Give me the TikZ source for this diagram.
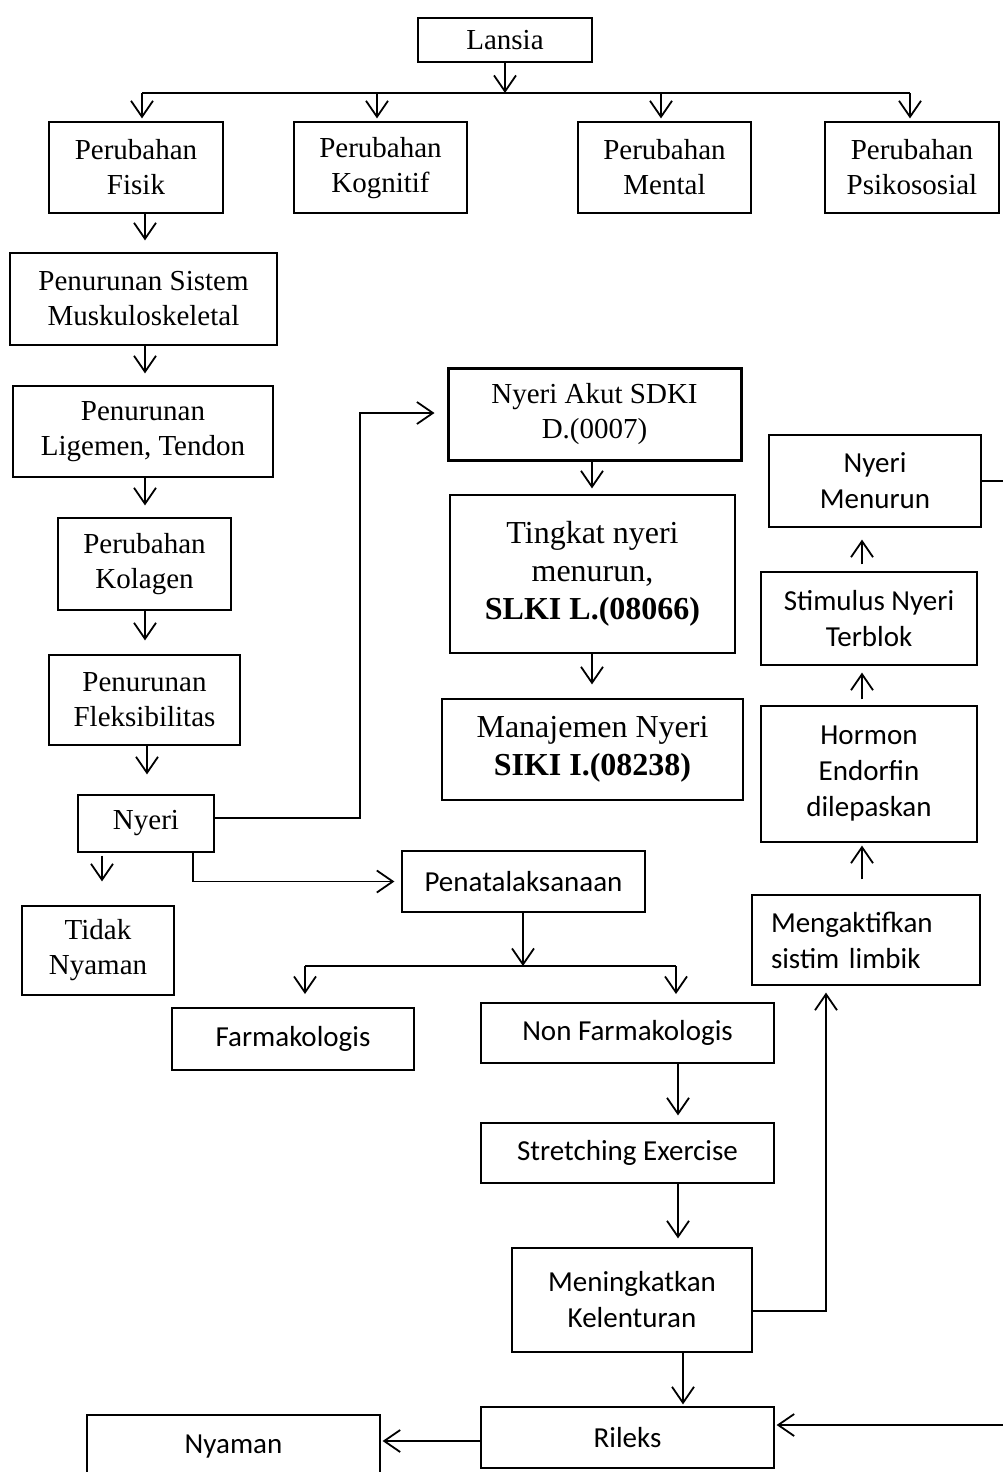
\documentclass[tikz,border=0pt]{standalone}
\usepackage{fontspec}
\setmainfont{Liberation Serif}
\newfontfamily\carlito{Carlito}
\usetikzlibrary{arrows.meta}

\begin{document}
\begin{tikzpicture}[x=1pt,y=-1pt,
  box/.style={draw,line width=1.2pt,inner sep=0pt,align=center,font=\fontsize{29}{35}\selectfont},
  bigbox/.style={box,font=\fontsize{32}{38}\selectfont},
  cbox/.style={box,font=\carlito\fontsize{29}{36}\selectfont},
  arr/.style={-{Straight Barb[length=16pt,width=22pt,line width=1.8pt]},line width=1.8pt},
  ln/.style={line width=1.8pt}]

\useasboundingbox (0,0) rectangle (1003,1472);

\node[box,minimum width=174,minimum height=44] (lansia) at (505,40) {Lansia};

\node[box,minimum width=174,minimum height=91] (fisik) at (136,167.5) {Perubahan\\Fisik};
\node[box,minimum width=173,minimum height=91,text depth=6pt] (kognitif) at (380.5,167.5) {Perubahan\\Kognitif};
\node[box,minimum width=173,minimum height=91] (mental) at (664.5,167.5) {Perubahan\\Mental};
\node[box,minimum width=174,minimum height=91] (psiko) at (912,167.5) {Perubahan\\Psikososial};

\node[box,minimum width=267,minimum height=92] (sistem) at (143.5,299) {Penurunan Sistem\\Muskuloskeletal};
\node[box,minimum width=260,minimum height=91] (ligamen) at (143,431.5) {Penurunan\\Ligemen, Tendon};
\node[box,minimum width=173,minimum height=92] (kolagen) at (144.5,564) {Perubahan\\Kolagen};
\node[box,minimum width=191,minimum height=90] (fleks) at (144.5,700) {Penurunan\\Fleksibilitas};
\node[box,minimum width=136,minimum height=57] (nyeri) at (146,823.5) {Nyeri};
\node[box,minimum width=152,minimum height=89] (tidak) at (98,950.5) {Tidak\\Nyaman};

\node[box,line width=3pt,minimum width=293,minimum height=92] (akut) at (594.5,414) {Nyeri Akut SDKI\\D.(0007)};
\node[bigbox,minimum width=285,minimum height=158] (tingkat) at (592.5,574) {Tingkat nyeri\\menurun,\\\textbf{SLKI L.(08066)}};
\node[bigbox,minimum width=301,minimum height=101] (manaj) at (592.5,749.5) {Manajemen Nyeri\\\textbf{SIKI I.(08238)}};

\node[cbox,minimum width=212,minimum height=92] (menurun) at (875,481) {Nyeri\\Menurun};
\node[cbox,minimum width=216,minimum height=93] (stimulus) at (869,618.5) {Stimulus Nyeri\\Terblok};
\node[cbox,minimum width=216,minimum height=136] (hormon) at (869,774) {Hormon\\Endorfin\\dilepaskan};
\node[cbox,minimum width=228,minimum height=90,text width=190,align=left] (limbik) at (866,940) {Mengaktifkan\\sistim limbik};

\node[cbox,minimum width=243,minimum height=61] (penata) at (523.5,881.5) {Penatalaksanaan};
\node[cbox,minimum width=242,minimum height=62] (farmako) at (293,1039) {Farmakologis};
\node[cbox,minimum width=293,minimum height=60] (nonfarm) at (627.5,1033) {Non Farmakologis};
\node[cbox,minimum width=293,minimum height=60] (stretch) at (627.5,1153) {Stretching Exercise};
\node[cbox,minimum width=240,minimum height=104] (kelentur) at (632,1300) {Meningkatkan\\Kelenturan};
\node[cbox,minimum width=293,minimum height=61] (rileks) at (627.5,1437.5) {Rileks};
\node[cbox,minimum width=293,minimum height=64] (nyaman) at (233.5,1447) {Nyaman};

\coordinate (bar) at (505,93);
\coordinate (split) at (523,966);
\coordinate (kanan) at (1010,481);

\draw[arr] (lansia.south) -- (bar);
\draw[ln] (142,93) -- (910,93);
\foreach \n/\x in {fisik/142,kognitif/377,mental/661,psiko/910}
  \draw[arr,shorten >=3pt] (\x,93) -- (\n.north -| \x,0);

\draw[arr,shorten >=12pt] (fisik.south -| 145,0) -- (sistem.north -| 145,0);
\draw[arr,shorten >=12pt] (sistem.south -| 145,0) -- (ligamen.north -| 145,0);
\draw[arr,shorten >=12pt] (ligamen.south -| 145,0) -- (kolagen.north -| 145,0);
\draw[arr,shorten >=14pt] (kolagen.south -| 145,0) -- (fleks.north -| 145,0);
\draw[arr,shorten >=20pt] (fleks.south -| 147,0) -- (nyeri.north -| 147,0);

\draw[arr,shorten >=12pt] (nyeri.east |- 0,818) -- (360,818) |- (akut.west |- 0,413);
\draw[arr,shorten <=3pt,shorten >=24pt] (nyeri.south -| 102,0) -- (tidak.north -| 102,0);
\draw[arr,shorten >=7pt] (nyeri.south -| 193,0) |- (penata.west);

\draw[arr,shorten >=6pt] (akut.south -| 592,0) -- (tingkat.north -| 592,0);
\draw[arr,shorten >=14pt] (tingkat.south -| 592,0) -- (manaj.north -| 592,0);

\draw[arr] (penata.south -| split) -- (split);
\draw[ln] (305,966) -- (676,966);
\draw[arr] (305,966) -- ++(0,28);
\draw[arr] (676,966) -- ++(0,28);

\draw[arr,shorten >=7pt] (nonfarm.south -| 678,0) -- (stretch.north -| 678,0);
\draw[arr,shorten >=9pt] (stretch.south -| 678,0) -- (kelentur.north -| 678,0);
\draw[arr,shorten >=2pt] (kelentur.south -| 683,0) -- (rileks.north -| 683,0);
\draw[arr,shorten >=2pt] (rileks.west |- 0,1441) -- (nyaman.east |- 0,1441);

\draw[arr,shorten >=7pt] (kelentur.east |- 0,1311) -| (limbik.south -| 826,0);
\draw[arr,shorten <=15pt,shorten >=3pt] (limbik.north -| 862,0) -- (hormon.south -| 862,0);
\draw[arr,shorten <=6pt,shorten >=7pt] (hormon.north -| 862,0) -- (stimulus.south -| 862,0);
\draw[arr,shorten <=7pt,shorten >=12pt] (stimulus.north -| 862,0) -- (menurun.south -| 862,0);

\draw[arr,shorten >=2pt] (menurun.east) -- (kanan) |- (rileks.east |- 0,1425);

\end{tikzpicture}
\end{document}
